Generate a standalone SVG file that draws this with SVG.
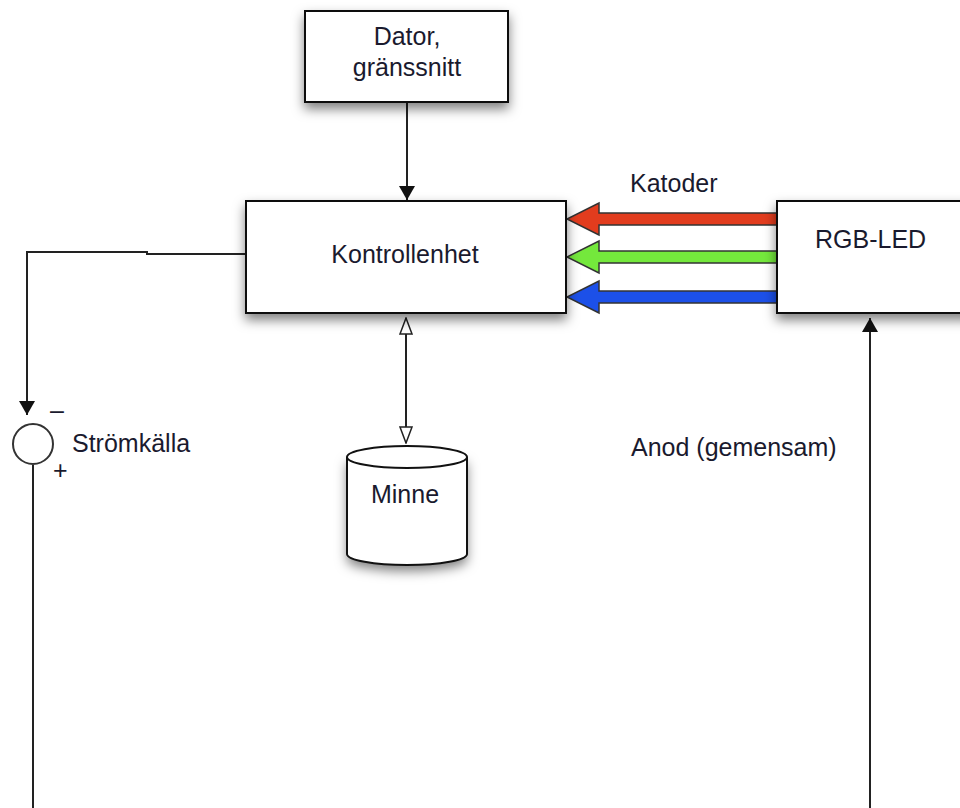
<svg xmlns="http://www.w3.org/2000/svg" width="960" height="808" viewBox="0 0 960 808">
<defs>
<filter id="sh" x="-20%" y="-20%" width="140%" height="160%">
<feDropShadow dx="0" dy="6" stdDeviation="6" flood-color="#000" flood-opacity="0.5"/>
</filter>
<marker id="ah" viewBox="0 0 14 18" refX="14" refY="9" markerWidth="14" markerHeight="18" markerUnits="userSpaceOnUse" orient="auto">
<path d="M0,1 L14,9 L0,17 Z" fill="#111"/>
</marker>
<marker id="oh" viewBox="0 0 18 14" refX="17" refY="7" markerWidth="18" markerHeight="14" markerUnits="userSpaceOnUse" orient="auto-start-reverse">
<path d="M1,1 L17,7 L1,13 Z" fill="#fff" stroke="#222" stroke-width="1.5"/>
</marker>
</defs>
<style>
.box{fill:#fff;stroke:#111;stroke-width:2}
.t{font-family:"Liberation Sans",Arial,sans-serif;font-size:25px;fill:#1a1a2e}
.ln{fill:none;stroke:#222;stroke-width:2}
.ca{stroke:#333;stroke-width:1.5;stroke-linejoin:miter}
</style>
<rect width="960" height="808" fill="#fff"/>
<g id="connectors">
<path class="ln" d="M407,102 L407,200" marker-end="url(#ah)"/>
<path class="ln" d="M246,254 L147,254 L147,252 L27,252 L27,415" marker-end="url(#ah)"/>
<path class="ln" d="M33,465 L33,808"/>
<path class="ln" d="M870,808 L870,318" marker-end="url(#ah)"/>
<path class="ln" d="M406,318 L406,443" stroke-width="1.6" marker-start="url(#oh)" marker-end="url(#oh)"/>
<polygon class="ca" fill="#e23c1e" points="777,213 599,213 599,203 567,219 599,235 599,225 777,225"/>
<polygon class="ca" fill="#74e83c" points="777,251 599,251 599,241 567,257 599,273 599,263 777,263"/>
<polygon class="ca" fill="#1c50e8" points="777,291 599,291 599,281 567,297 599,313 599,303 777,303"/>
</g>
<g id="dator">
<rect class="box" x="305" y="11" width="203" height="91" filter="url(#sh)"/>
<text class="t" x="407" y="45" text-anchor="middle" font-size="24">Dator,</text>
<text class="t" x="407" y="76" text-anchor="middle" font-size="24">gränssnitt</text>
</g>
<g id="kontrollenhet">
<rect class="box" x="246" y="201" width="320" height="112" filter="url(#sh)"/>
<text class="t" x="405" y="263" text-anchor="middle">Kontrollenhet</text>
</g>
<g id="rgbled">
<rect class="box" x="777" y="201" width="200" height="112" filter="url(#sh)"/>
<text class="t" x="815" y="248">RGB-LED</text>
</g>
<g id="katoder"><text class="t" x="630" y="192">Katoder</text></g>
<g id="anod"><text class="t" x="631" y="456" font-size="24">Anod (gemensam)</text></g>
<g id="minne">
<path d="M347,457 L347,554 A60,11 0 0 0 467,554 L467,457 Z" fill="#fff" filter="url(#sh)"/>
<path d="M347,457 L347,554 A60,11 0 0 0 467,554 L467,457" fill="#fff" stroke="#111" stroke-width="2"/>
<ellipse cx="407" cy="457" rx="60" ry="11" fill="#fff" stroke="#111" stroke-width="2"/>
<text class="t" x="405" y="503" text-anchor="middle" font-size="18">Minne</text>
</g>
<g id="stromkalla">
<circle cx="33" cy="444" r="20" fill="#fff" stroke="#333" stroke-width="2"/>
<text class="t" x="50" y="419" font-size="22">–</text>
<text class="t" x="53" y="479" font-size="26">+</text>
<text class="t" x="72" y="452">Strömkälla</text>
</g>
</svg>
